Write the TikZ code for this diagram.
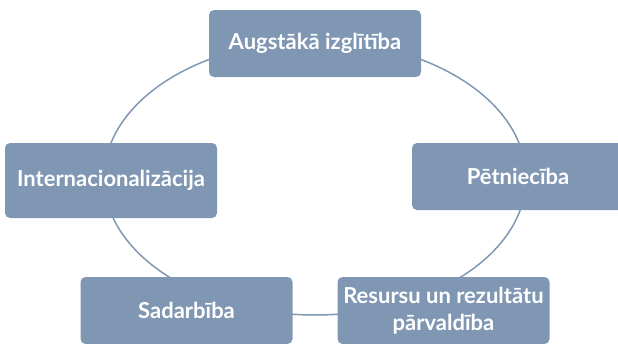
\documentclass[tikz,border=0pt]{standalone}
\usepackage{fontspec}
\setmainfont{Lato}
\definecolor{boxblue}{RGB}{128,151,179}
\begin{document}
\begin{tikzpicture}[x=1pt,y=-1pt,
  cyclebox/.style={draw=none,fill=boxblue,rounded corners=5pt,minimum width=212pt,minimum height=67pt,
    text=white,font=\fontsize{22}{27}\selectfont\bfseries,align=center,inner sep=0pt},
  ring/.style={draw=boxblue,line width=1.5pt}]
\useasboundingbox (0,0) rectangle (618,343);
\clip (0,0) rectangle (618,343);
\draw[ring] (315,178) ellipse [x radius=211, y radius=137];
\node[cyclebox] (top) at (315,43.5) {Augstākā izglītība};
\node[cyclebox,minimum height=75pt] (left) at (111,180.5) {Internacionalizācija};
\node[cyclebox] (right) at (518,176.5) {Pētniecība};
\node[cyclebox] (botl) at (186.5,310.5) {Sadarbība};
\node[cyclebox] (botr) at (443.5,310.5) {Resursu un rezultātu\\pārvaldība};
\end{tikzpicture}
\end{document}
